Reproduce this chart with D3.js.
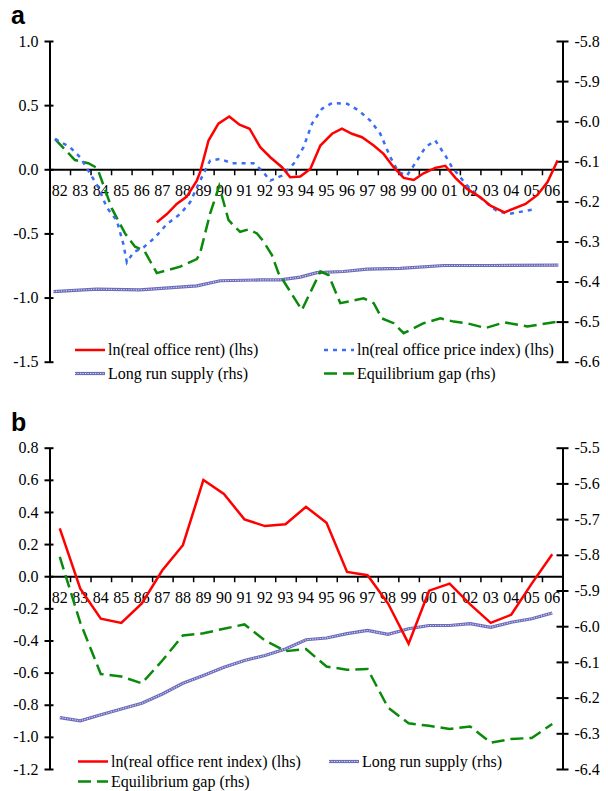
<!DOCTYPE html>
<html>
<head>
<meta charset="utf-8">
<script src="https://cdn.jsdelivr.net/npm/d3@7"></script>
<style>
  body { margin: 0; background: #fff; }
</style>
</head>
<body>
<div id="chart"></div>
<script>
// year labels on the category axis
var years = d3.range(1982, 2007);
var yearLabels = years.map(function (y) { return String(y).slice(2); });

// panel a: quarterly series, [decimal year, value]
var rentA = [[1987.23,-0.414],[1987.72,-0.349],[1988.2,-0.27],[1988.69,-0.213],[1989.18,-0.088],[1989.34,-0.023],
  [1989.75,0.224],[1990.23,0.355],[1990.76,0.412],[1991.26,0.347],[1991.75,0.316],[1992.27,0.172],[1992.76,0.094],
  [1993.33,0.016],[1993.73,-0.062],[1994.22,-0.057],[1994.71,0.003],[1995.2,0.185],[1995.77,0.277],[1996.25,0.316],
  [1996.74,0.277],[1997.23,0.25],[1997.8,0.185],[1998.28,0.12],[1998.77,0.016],[1999.26,-0.067],[1999.75,-0.083],
  [2000.23,-0.031],[2000.8,0.011],[2001.29,0.027],[2001.78,-0.067],[2002.35,-0.153],[2003.0,-0.219],[2003.49,-0.284],
  [2004.17,-0.336],[2005.2,-0.27],[2005.78,-0.2],[2006.27,-0.1],[2006.76,0.068]];
var priceA = [[1982.27,0.237],[1983.0,0.172],[1983.49,0.094],[1983.89,-0.01],[1984.38,-0.14],[1984.79,-0.297],
  [1985.28,-0.4],[1985.6,-0.583],[1985.77,-0.726],[1986.09,-0.648],[1986.58,-0.609],[1987.15,-0.531],[1987.72,-0.427],
  [1988.37,-0.349],[1988.85,-0.258],[1989.34,-0.088],[1989.83,0.068],[1990.32,0.081],[1990.89,0.047],[1991.94,0.047],
  [1992.35,-0.01],[1992.76,-0.088],[1993.33,-0.049],[1993.89,0.042],[1994.38,0.172],[1994.79,0.355],[1995.28,0.472],
  [1995.77,0.516],[1996.5,0.511],[1997.06,0.459],[1997.63,0.38],[1998.12,0.277],[1998.61,0.094],[1999.01,-0.023],
  [1999.42,-0.049],[1999.91,0.068],[2000.32,0.172],[2000.8,0.224],[2001.29,0.107],[2001.62,0.016],[2002.35,-0.127],
  [2003.16,-0.245],[2003.78,-0.323],[2004.37,-0.349],[2005.68,-0.31]];
var supplyA = [[1982.19,-6.425],[1984.3,-6.419],[1986.41,-6.421],[1989.18,-6.411],[1990.32,-6.398],[1992.27,-6.396],
  [1993.24,-6.396],[1994.22,-6.389],[1995.03,-6.378],[1996.33,-6.375],[1997.47,-6.369],[1999.1,-6.367],
  [2001.21,-6.36],[2003.49,-6.36],[2006.8,-6.359]];
var gapA = [[1982.27,-6.045],[1983.24,-6.097],[1983.89,-6.105],[1984.33,-6.117],[1985.03,-6.217],[1985.68,-6.28],
  [1986.17,-6.313],[1986.62,-6.323],[1987.23,-6.379],[1988.37,-6.363],[1989.18,-6.344],[1989.34,-6.329],
  [1989.83,-6.23],[1990.27,-6.162],[1990.72,-6.246],[1990.95,-6.259],[1991.29,-6.276],[1991.7,-6.27],[1992.11,-6.28],
  [1992.43,-6.3],[1992.84,-6.334],[1993.16,-6.379],[1994.3,-6.471],[1995.2,-6.375],[1995.6,-6.384],[1996.17,-6.454],
  [1997.31,-6.442],[1997.8,-6.454],[1998.2,-6.492],[1998.77,-6.504],[1999.26,-6.529],[2000.23,-6.504],
  [2001.05,-6.492],[2001.7,-6.5],[2002.35,-6.504],[2003.24,-6.516],[2004.17,-6.502],[2005.29,-6.512],[2006.8,-6.5]];

// panel b: annual series, one value per year 1982-2006
var rentB = [0.298,-0.077,-0.264,-0.291,-0.17,0.037,0.193,0.599,0.512,0.354,0.312,0.324,0.432,0.333,0.027,0.006,
  -0.17,-0.42,-0.09,-0.046,-0.175,-0.29,-0.24,-0.046,0.137];
var supplyB = [-6.256,-6.265,-6.248,-6.232,-6.216,-6.19,-6.16,-6.138,-6.115,-6.096,-6.082,-6.064,-6.038,-6.033,
  -6.021,-6.012,-6.023,-6.007,-5.998,-5.998,-5.993,-6.003,-5.989,-5.979,-5.963];
var gapB = [-5.806,-5.99,-6.134,-6.141,-6.16,-6.096,-6.026,-6.02,-6.007,-5.995,-6.04,-6.07,-6.064,-6.113,-6.122,
  -6.12,-6.228,-6.272,-6.279,-6.288,-6.281,-6.326,-6.316,-6.313,-6.274];

// tick values
var leftTicksA = [1.0, 0.5, 0.0, -0.5, -1.0, -1.5];
var rightTicksA = [-5.8, -5.9, -6.0, -6.1, -6.2, -6.3, -6.4, -6.5, -6.6];
var leftTicksB = [0.8, 0.6, 0.4, 0.2, 0.0, -0.2, -0.4, -0.6, -0.8, -1.0, -1.2];
var rightTicksB = [-5.5, -5.6, -5.7, -5.8, -5.9, -6.0, -6.1, -6.2, -6.3, -6.4];

var RED = '#ff0000', BLUE = '#3a6cf5', GREEN = '#0a8a0a', NAVY = '#6c6cbc';
var serif = '"Liberation Serif", "Times New Roman", serif';

var svg = d3.select('#chart').append('svg')
    .attr('width', 608)
    .attr('height', 791)
    .style('font-family', serif);

var x = d3.scaleLinear().domain([1982, 2007]).range([49.5, 562.5]);

function drawPanel(opt) {
    var g = svg.append('g');
    var yL = d3.scaleLinear().domain(opt.leftDomain).range([opt.bottom, opt.top]);
    var yR = d3.scaleLinear().domain(opt.rightDomain).range([opt.bottom, opt.top]);

    // panel letter
    g.append('text')
        .attr('x', 11)
        .attr('y', opt.top - 17)
        .attr('font-family', '"Liberation Sans", Arial, sans-serif')
        .attr('font-weight', 'bold')
        .attr('font-size', '25px')
        .text(opt.letter);

    // left axis
    var left = g.append('g').attr('transform', 'translate(' + x.range()[0] + ',0)')
        .call(d3.axisLeft(yL).tickValues(opt.leftTicks).tickFormat(d3.format('.1f')).tickSizeInner(5).tickSizeOuter(0).tickPadding(6));
    // right axis
    var right = g.append('g').attr('transform', 'translate(' + x.range()[1] + ',0)')
        .call(d3.axisRight(yR).tickValues(opt.rightTicks).tickFormat(d3.format('.1f')).tickSizeInner(6).tickSizeOuter(0).tickPadding(6));
    [left, right].forEach(function (ax) {
        ax.select('.domain').attr('stroke', '#000').attr('stroke-width', 2);
        ax.selectAll('.tick line').attr('stroke', '#000').attr('stroke-width', 2);
        ax.selectAll('.tick text').attr('font-size', '16px').attr('font-family', serif).attr('fill', '#000');
    });
    left.selectAll('.tick line').attr('x1', 4);
    right.selectAll('.tick line').attr('x1', -6);
    left.selectAll('.tick text').text(function (d) { return d3.format('.1f')(d).replace('−', '-'); });
    right.selectAll('.tick text').text(function (d) { return d3.format('.1f')(d).replace('−', '-'); });

    // zero line with year ticks
    var y0 = yL(0);
    var bottomAx = g.append('g').attr('transform', 'translate(0,' + y0 + ')')
        .call(d3.axisBottom(x).tickValues(d3.range(1983, 2007)).tickSizeInner(6).tickSizeOuter(0).tickFormat(''));
    bottomAx.select('.domain').attr('stroke', '#000').attr('stroke-width', 2);
    bottomAx.selectAll('.tick line').attr('stroke', '#000').attr('stroke-width', 1.5);
    g.selectAll('.yearlbl').data(years).enter().append('text')
        .attr('x', function (d) { return x(d + 0.5); })
        .attr('y', y0 + 27)
        .attr('text-anchor', 'middle')
        .attr('font-size', '16px')
        .text(function (d, i) { return yearLabels[i]; });

    // series
    var lineL = d3.line().x(function (d) { return x(d[0]); }).y(function (d) { return yL(d[1]); });
    var lineR = d3.line().x(function (d) { return x(d[0]); }).y(function (d) { return yR(d[1]); });
    opt.series.forEach(function (s) {
        var path = (s.axis === 'L' ? lineL : lineR)(s.data);
        drawStyled(g, path, s.style);
    });

    // legend
    opt.legend.forEach(function (it) {
        var p = 'M' + it.x + ',' + it.y + 'H' + (it.x + 30);
        drawStyled(g, p, it.style);
        g.append('text')
            .attr('x', it.x + 33)
            .attr('y', it.y + 5)
            .attr('font-size', '16px')
            .text(it.label);
    });
}

function drawStyled(g, d, style) {
    if (style === 'supply') {
        g.append('path').attr('d', d).attr('fill', 'none').attr('stroke', NAVY).attr('stroke-width', 3.2);
        g.append('path').attr('d', d).attr('fill', 'none').attr('stroke', '#fff')
            .attr('stroke-width', 1.1).attr('stroke-dasharray', '1.2,1.3').attr('opacity', 0.75);
        return;
    }
    var p = g.append('path').attr('d', d).attr('fill', 'none').attr('stroke-width', 2.5);
    if (style === 'rent') p.attr('stroke', RED);
    if (style === 'price') p.attr('stroke', BLUE).attr('stroke-dasharray', '4,5');
    if (style === 'gap') p.attr('stroke', GREEN).attr('stroke-dasharray', '13,6');
}

function annual(vals) {
    return vals.map(function (v, i) { return [years[i] + 0.5, v]; });
}

drawPanel({
    letter: 'a', top: 41, bottom: 361.7,
    leftDomain: [-1.5, 1.0], rightDomain: [-6.6, -5.8],
    leftTicks: leftTicksA, rightTicks: rightTicksA,
    series: [
        { data: supplyA, axis: 'R', style: 'supply' },
        { data: gapA, axis: 'R', style: 'gap' },
        { data: priceA, axis: 'L', style: 'price' },
        { data: rentA, axis: 'L', style: 'rent' }
    ],
    legend: [
        { x: 75, y: 350, style: 'rent', label: 'ln(real office rent) (lhs)' },
        { x: 324, y: 350, style: 'price', label: 'ln(real office price index) (lhs)' },
        { x: 75, y: 373.5, style: 'supply', label: 'Long run supply (rhs)' },
        { x: 324, y: 373.5, style: 'gap', label: 'Equilibrium gap (rhs)' }
    ]
});

drawPanel({
    letter: 'b', top: 447.7, bottom: 769,
    leftDomain: [-1.2, 0.8], rightDomain: [-6.4, -5.5],
    leftTicks: leftTicksB, rightTicks: rightTicksB,
    series: [
        { data: annual(supplyB), axis: 'R', style: 'supply' },
        { data: annual(gapB), axis: 'R', style: 'gap' },
        { data: annual(rentB), axis: 'L', style: 'rent' }
    ],
    legend: [
        { x: 78, y: 761.5, style: 'rent', label: 'ln(real office rent index) (lhs)' },
        { x: 329, y: 761.5, style: 'supply', label: 'Long run supply (rhs)' },
        { x: 78, y: 781.5, style: 'gap', label: 'Equilibrium gap (rhs)' }
    ]
});
</script>
</body>
</html>
